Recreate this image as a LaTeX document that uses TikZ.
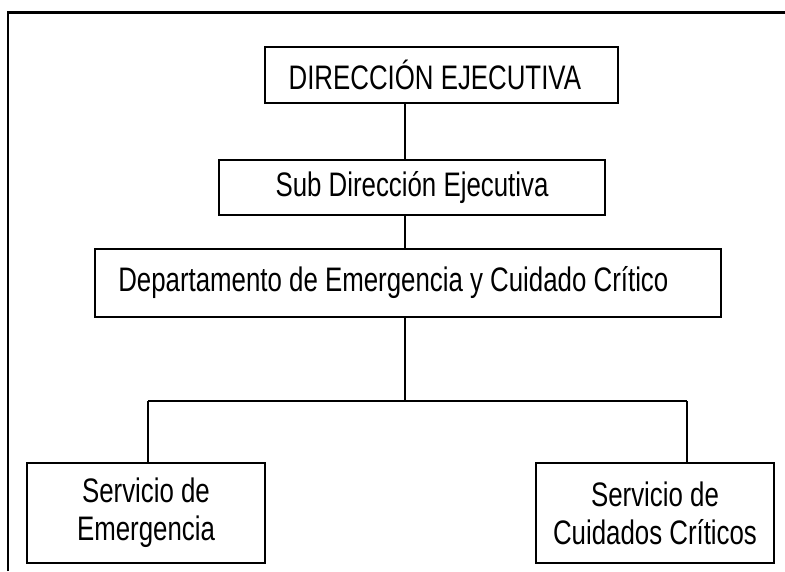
\documentclass[tikz,border=0pt]{standalone}
\usepackage{fontspec}
\setmainfont[FakeStretch=0.76]{Liberation Sans}
\usetikzlibrary{calc}
\tikzset{
  caja/.style={draw,line width=1.2pt,inner sep=0pt,outer sep=0pt,align=center,
    font=\fontsize{25.5}{28.5}\selectfont},
  linea/.style={line width=0.9pt}
}

\begin{document}
\begin{tikzpicture}[x=0.75pt,y=-0.75pt]
\useasboundingbox (0,0) rectangle (785,571);
% marco
\draw[line width=2.2pt] (8,571)--(8,12.5)--(785,12.5);
% cajas
\node[caja,minimum width=264.75pt,minimum height=42pt] (dir) at (441.5,75) {DIRECCIÓN EJECUTIVA\hspace*{10pt}};
\node[caja,minimum width=289.5pt,minimum height=41.25pt] (sub) at (412,187.5) {Sub Dirección Ejecutiva};
\node[caja,minimum width=469.5pt,minimum height=51pt] (dep) at (408,283) {Departamento de Emergencia y Cuidado Crítico\hspace*{22pt}};
\node[caja,minimum width=178.5pt,minimum height=75pt] (emer) at (146,513) {Servicio de\\Emergencia};
\node[caja,minimum width=178.5pt,minimum height=75pt] (cuid) at (655,513) {Servicio de\\Cuidados Críticos};
% puntos de union
\coordinate (eje) at (405,0);
\coordinate (ramaI) at (148,401);
\coordinate (ramaD) at (687,401);
% conectores
\draw[linea] (dir.south -| eje)--(sub.north -| eje);
\draw[linea] (sub.south -| eje)--(dep.north -| eje);
\draw[linea] (dep.south -| eje)--(eje |- ramaI);
\draw[linea] (ramaI)--(ramaD);
\draw[linea] (ramaI)--(ramaI |- emer.north);
\draw[linea] (ramaD)--(ramaD |- cuid.north);
\end{tikzpicture}
\end{document}
